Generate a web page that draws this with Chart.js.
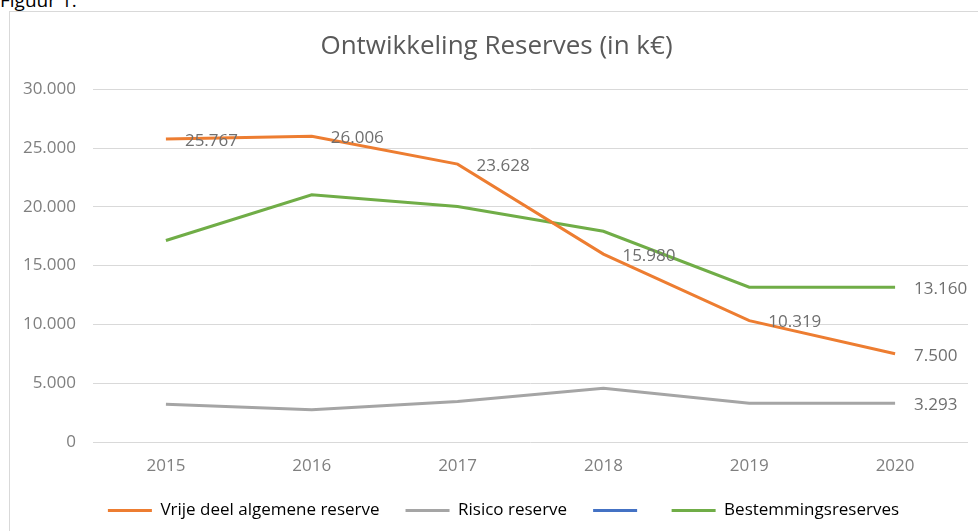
<!DOCTYPE html>
<html>
<head>
<meta charset="utf-8">
<script src="https://cdn.jsdelivr.net/npm/chart.js@4/dist/chart.umd.min.js"></script>
<style>
  html, body { margin: 0; padding: 0; background: #fff; overflow: hidden; }
  body { width: 978px; height: 531px; position: relative; }
  #caption { position: absolute; left: 0; top: -13px; font: 19px "Open Sans", sans-serif; color: #000; }
  #frame { position: absolute; left: 9px; top: 11px; width: 969px; height: 520px;
           border-left: 1px solid #d9d9d9; border-top: 1px solid #d9d9d9; }
  #box { position: relative; width: 969px; height: 520px; }
</style>
</head>
<body>
<div id="caption">Figuur 1:</div>
<div id="frame"><div id="box"><canvas id="reserveChart"></canvas></div></div>
<script>
const years = ["2015", "2016", "2017", "2018", "2019", "2020"];
const vrijeDeel = [25767, 26006, 23628, 15980, 10319, 7500];
const risico = [3200, 2750, 3450, 4560, 3293, 3293];
const leeg = [];
const bestemming = [17130, 21025, 20030, 17920, 13160, 13160];
const yTicks = [0, 5000, 10000, 15000, 20000, 25000, 30000];
// which points carry a value label
const showVrije = [true, true, true, true, true, true];
const showRisico = [false, false, false, false, false, true];
const showBestemming = [false, false, false, false, false, true];

function fmt(v) {
  return String(Math.round(v)).replace(/\B(?=(\d{3})+(?!\d))/g, ".");
}

const valueLabels = {
  id: "valueLabels",
  afterDatasetsDraw(chart) {
    const ctx = chart.ctx;
    ctx.save();
    ctx.font = '17px "Open Sans"';
    ctx.fillStyle = "#6f6f6f";
    ctx.textAlign = "left";
    ctx.textBaseline = "middle";
    chart.data.datasets.forEach((ds, i) => {
      if (!ds.showLabels) return;
      chart.getDatasetMeta(i).data.forEach((pt, j) => {
        if (!ds.showLabels[j]) return;
        ctx.fillText(fmt(ds.data[j]), pt.x + 19, pt.y + 2);
      });
    });
    ctx.restore();
  },
};

// fixed legend height; legend and title centred a bit right of the canvas middle
const legendSpace = {
  id: "legendSpace",
  beforeInit(chart) {
    const fit = chart.legend.fit;
    chart.legend.fit = function () {
      fit.bind(chart.legend)();
      this.height = 56;
    };
  },
  afterLayout(chart) {
    chart.legend.left += 29;
    chart.legend.width -= 29;
    chart.titleBlock.left += 15;
    chart.titleBlock.width -= 15;
  },
};

function line(label, data, color, show) {
  return {
    label: label,
    data: data,
    borderColor: color,
    backgroundColor: color,
    borderWidth: 3,
    pointRadius: 0,
    pointHoverRadius: 0,
    tension: 0,
    fill: false,
    showLabels: show,
  };
}

new Chart(document.getElementById("reserveChart").getContext("2d"), {
  type: "line",
  data: {
    labels: years,
    datasets: [
      line("Vrije deel algemene reserve", vrijeDeel, "#ed7d31", showVrije),
      line("Risico reserve", risico, "#a5a5a5", showRisico),
      line("", leeg, "#4472c4", null),
      line("Bestemmingsreserves", bestemming, "#70ad47", showBestemming),
    ],
  },
  options: {
    responsive: true,
    maintainAspectRatio: false,
    animation: false,
    layout: { padding: { left: 0, right: 11, top: 0, bottom: 0 } },
    plugins: {
      title: {
        display: true,
        text: "Ontwikkeling Reserves (in k€)",
        color: "#595959",
        font: { family: "Open Sans", size: 26, weight: "normal" },
        padding: { top: 19, bottom: 27 },
      },
      legend: {
        position: "bottom",
        labels: {
          color: "#7f7f7f",
          font: { family: "Open Sans", size: 17 },
          boxWidth: 44,
          boxHeight: 3,
          padding: 26,
          generateLabels(chart) {
            return chart.data.datasets.map((ds, i) => ({
              text: ds.label,
              fillStyle: ds.borderColor,
              strokeStyle: ds.borderColor,
              lineWidth: 0,
              datasetIndex: i,
              hidden: false,
            }));
          },
        },
      },
      tooltip: { enabled: false },
    },
    scales: {
      x: {
        offset: true,
        grid: { display: false, drawTicks: false },
        border: { display: false },
        ticks: { color: "#7f7f7f", font: { family: "Open Sans", size: 17 }, padding: 14 },
        afterFit(scale) { scale.height = 34; },
      },
      y: {
        min: 0,
        max: 30000,
        grid: { color: "#d9d9d9", lineWidth: 1, drawTicks: false },
        border: { display: false },
        ticks: {
          color: "#7f7f7f",
          font: { family: "Open Sans", size: 17 },
          padding: 17,
          stepSize: 5000,
          callback: (v) => (yTicks.includes(v) ? fmt(v) : null),
        },
        afterFit(scale) { scale.width = 83; },
      },
    },
  },
  plugins: [valueLabels, legendSpace],
});
</script>
</body>
</html>
